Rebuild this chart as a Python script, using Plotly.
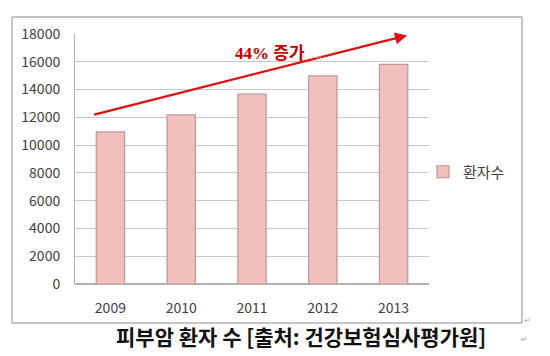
import plotly.graph_objects as go

years = ["2009", "2010", "2011", "2012", "2013"]
patients = [10950, 12170, 13680, 14980, 15820]
series_name = "환자수"
y_ticks = [0, 2000, 4000, 6000, 8000, 10000, 12000, 14000, 16000, 18000]
arrow_label = "44% 증가"
caption = "피부암 환자 수 [출처: 건강보험심사평가원]"

fig = go.Figure()
fig.add_trace(go.Bar(
    x=years, y=patients, name=series_name,
    marker=dict(color="#f2bfbf", line=dict(color="#bf9595", width=1.2)),
    width=0.4,
))

L, R, T, B = 75, 429, 34, 284
W, H = 550, 356
def px(x):
    return (x - L) / (R - L)
def py(y):
    return (B - y) / (B - T)

fig.update_layout(
    width=W, height=H,
    margin=dict(l=L, r=W - R, t=T, b=H - B, autoexpand=False),
    paper_bgcolor="white", plot_bgcolor="white",
    showlegend=True,
    legend=dict(x=px(423), y=py(172), xanchor="left", yanchor="middle",
                font=dict(family="Noto Sans CJK KR", size=15, color="#404040"),
                itemwidth=30, bgcolor="rgba(0,0,0,0)"),
    xaxis=dict(type="category", showgrid=False, showline=False, ticks="",
               tickfont=dict(family="Noto Sans CJK KR", size=14, color="#404040"),
               ticklabelstandoff=14, range=[-0.5, 4.5]),
    yaxis=dict(range=[0, 18000], tickvals=y_ticks, tickformat="d", showgrid=True,
               gridcolor="#c8c8c8", gridwidth=1, zeroline=True,
               zerolinecolor="#b0b0b0", showline=True, linecolor="#b0b0b0",
               ticks="", tickfont=dict(family="Noto Sans CJK KR", size=14, color="#404040"),
               ticklabelstandoff=11),
    bargap=0.6,
)

# outer chart border
fig.add_shape(type="rect", xref="paper", yref="paper",
              x0=px(12), x1=px(522), y0=py(323), y1=py(17),
              line=dict(color="#8c8c8c", width=1), fillcolor="rgba(0,0,0,0)", layer="below")

# arrow
fig.add_annotation(x=4.19, y=17900, ax=-0.25, ay=12170, xref="x", yref="y",
                   axref="x", ayref="y", text="", showarrow=True,
                   arrowhead=2, arrowsize=1.1, arrowwidth=2.2, arrowcolor="#e01010")

def note(x, y, text, font):
    fig.add_annotation(x=px(x), y=py(y), xref="paper", yref="paper", text=text,
                       showarrow=False, xanchor="center", yanchor="middle", font=font)

note(270, 54, "<b>" + arrow_label + "</b>",
     dict(family="Liberation Serif, Noto Sans CJK KR", size=17, color="#c00000"))
note(319, 57, "↵", dict(size=8, color="#a0a0a0"))

# caption
note(301, 336, "<b>" + caption + "</b>",
     dict(family="Noto Sans CJK KR", size=21, color="#111111"))
note(524, 338, "↵", dict(size=8, color="#a0a0a0"))
note(527, 319, "↵", dict(size=8, color="#a0a0a0"))

fig.write_html("out.html", config={"displayModeBar": False},
               post_script="document.body.style.margin='0';")
